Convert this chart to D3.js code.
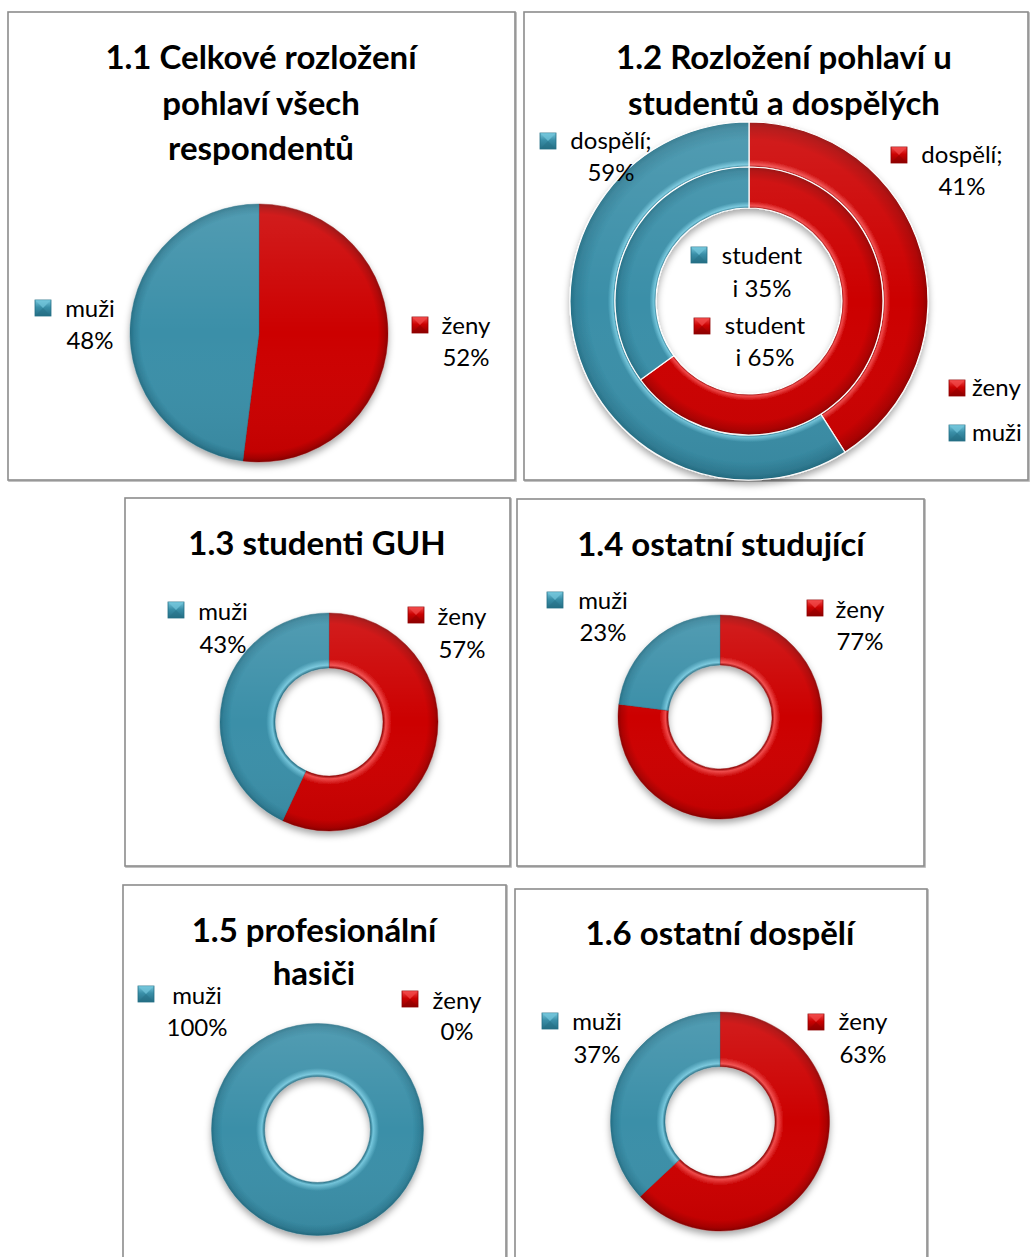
<!DOCTYPE html>
<html><head><meta charset="utf-8">
<script src="https://cdn.jsdelivr.net/npm/d3@7"></script>
<style>
body{margin:0;background:#fff}
svg text{font-family:Lato,"Open Sans",sans-serif;fill:#000}
</style>
</head><body>
<svg id="c" width="1031" height="1257"></svg>
<script>
// ---------- DATA ----------
const categories = ["ženy", "muži"];
const panelTitles = [
  ["1.1 Celkové rozložení", "pohlaví všech", "respondentů"],
  ["1.2 Rozložení pohlaví u", "studentů a dospělých"],
  ["1.3 studenti GUH"],
  ["1.4 ostatní studující"],
  ["1.5 profesionální", "hasiči"],
  ["1.6 ostatní dospělí"]
];
const values11 = [52, 48];          // celkově
const values12Outer = [41, 59];     // dospělí
const values12Inner = [65, 35];     // studenti
const values13 = [57, 43];
const values14 = [77, 23];
const values15 = [0, 100];
const values16 = [63, 37];
const seriesNames12 = ["dospělí", "studenti"];

// ---------- LAYOUT ----------
const layout = [
  {box:[8,12,507,468], cx:259, cy:333, rings:[[0,129]], titleX:261, titleY:[57,103,148],
   labels:[{c:"muži",mx:43,my:308,tx:90,y1:309,y2:341},{c:"ženy",mx:420,my:325,tx:466,y1:326,y2:358}]},
  {box:[524,12,504,468], cx:749, cy:301, rings:[[134,179],[93,134]], titleX:784, titleY:[57,103],
   labels:[
     {ring:0,c:"muži",mx:548,my:141,tx:611,y1:141,y2:173},
     {ring:0,c:"ženy",mx:899,my:155,tx:962,y1:155,y2:187},
     {ring:1,c:"muži",mx:699,my:255,tx:762,y1:256,y2:289},
     {ring:1,c:"ženy",mx:702,my:326,tx:765,y1:326,y2:358}],
   legend:{x:957,y:[388,433]}},
  {box:[125,498,385,368], cx:329, cy:722, rings:[[54,109]], titleX:317, titleY:[543],
   labels:[{c:"muži",mx:176,my:610,tx:223,y1:612,y2:645},{c:"ženy",mx:416,my:615,tx:462,y1:617,y2:650}]},
  {box:[517,499,407,367], cx:720, cy:717, rings:[[52,102]], titleX:721, titleY:[544],
   labels:[{c:"muži",mx:555,my:600,tx:603,y1:601,y2:633},{c:"ženy",mx:815,my:608,tx:860,y1:610,y2:642}]},
  {box:[123,885,383,400], cx:317.5, cy:1129.5, rings:[[53,106]], titleX:314, titleY:[930,973],
   labels:[{c:"muži",mx:146,my:994,tx:197,y1:996,y2:1028},{c:"ženy",mx:410,my:999,tx:457,y1:1001,y2:1032}]},
  {box:[515,889,412,400], cx:720, cy:1121.5, rings:[[55,109.5]], titleX:720, titleY:[933],
   labels:[{c:"muži",mx:550,my:1021,tx:597,y1:1022,y2:1055},{c:"ženy",mx:816,my:1022,tx:863,y1:1022,y2:1055}]}
];
const panelData = [[values11],[values12Outer, values12Inner],[values13],[values14],[values15],[values16]];

const color = d3.scaleOrdinal(categories, ["#CC0202", "#3A8FA8"]);
const light = d3.scaleOrdinal(categories, ["#F24A4A", "#74C6DC"]);
const dark = d3.scaleOrdinal(categories, ["#8E0000", "#256F85"]);

const svg = d3.select("#c");
const defs = svg.append("defs");
const sh = defs.append("filter").attr("id","shadow").attr("x","-20%").attr("y","-20%").attr("width","140%").attr("height","150%");
sh.append("feDropShadow").attr("dx",0).attr("dy",4).attr("stdDeviation",3.5).attr("flood-color","#000").attr("flood-opacity",0.35);
const bsh = defs.append("filter").attr("id","bshadow").attr("x","-5%").attr("y","-5%").attr("width","110%").attr("height","110%");
bsh.append("feDropShadow").attr("dx",1).attr("dy",1).attr("stdDeviation",0.6).attr("flood-color","#000").attr("flood-opacity",0.3);

// marker gradients
categories.forEach((c,i)=>{
  const g = defs.append("linearGradient").attr("id","mk"+i).attr("x1",0).attr("y1",0).attr("x2",0).attr("y2",1);
  g.append("stop").attr("offset","0%").attr("stop-color",light(c));
  g.append("stop").attr("offset","45%").attr("stop-color",color(c));
  g.append("stop").attr("offset","100%").attr("stop-color",dark(c));
});

const pie = d3.pie().sort(null).value(d=>d.v);
let gid = 0;

function marker(g, c, x, y){
  const i = categories.indexOf(c), s = 16;
  g.append("rect").attr("x",x-s/2).attr("y",y-s/2).attr("width",s).attr("height",s)
    .attr("fill","url(#mk"+i+")").attr("stroke",dark(c)).attr("stroke-width",0.8);
  g.append("path").attr("d",`M${x-s/2},${y-s/2}L${x+s/2},${y-s/2}L${x},${y}Z`).attr("fill",light(c)).attr("opacity",0.7);
  g.append("path").attr("d",`M${x-s/2},${y+s/2}L${x+s/2},${y+s/2}L${x},${y}Z`).attr("fill",dark(c)).attr("opacity",0.45);
}

layout.forEach((L, pi) => {
  const g = svg.append("g");
  const [bx,by,bw,bh] = L.box;
  g.append("rect").attr("x",bx).attr("y",by).attr("width",bw).attr("height",bh)
    .attr("fill","#fff").attr("stroke","#8c8c8c").attr("stroke-width",1.6).attr("filter","url(#bshadow)");

  // title
  panelTitles[pi].forEach((t,li)=>{
    g.append("text").attr("x",L.titleX).attr("y",L.titleY[li]).attr("dy","0.35em")
      .attr("text-anchor","middle").attr("font-weight","bold").attr("font-size",33).text(t);
  });

  // rings
  const dg = g.append("g").attr("transform",`translate(${L.cx},${L.cy})`).attr("filter","url(#shadow)");
  L.rings.forEach((r,ri)=>{
    const [ri0, ro] = r;
    const vals = panelData[pi][ri];
    const arcs = pie(categories.map((c,k)=>({c, v: vals[k]})));
    const arc = d3.arc().innerRadius(ri0).outerRadius(ro);
    categories.forEach((c,k)=>{
      const id = "rg"+(gid++);
      const f0 = ri0/ro;
      const gr = defs.append("radialGradient").attr("id",id).attr("gradientUnits","userSpaceOnUse")
        .attr("cx",0).attr("cy",0).attr("r",ro);
      if (f0 > 0) {
        gr.append("stop").attr("offset",f0).attr("stop-color",dark(c));
        gr.append("stop").attr("offset",f0+ (1-f0)*0.05).attr("stop-color",light(c));
        gr.append("stop").attr("offset",f0+ (1-f0)*0.16).attr("stop-color",color(c));
      } else {
        gr.append("stop").attr("offset",0).attr("stop-color",color(c));
      }
      gr.append("stop").attr("offset",0.86 + (f0>0?0.04:0.06)).attr("stop-color",color(c));
      gr.append("stop").attr("offset",0.97).attr("stop-color",d3.interpolateRgb(color(c),dark(c))(0.5));
      gr.append("stop").attr("offset",1).attr("stop-color",dark(c));
      const a = arcs[k];
      if (a.endAngle - a.startAngle <= 0) return;
      dg.append("path").attr("d",arc(a)).attr("fill","url(#"+id+")")
        .attr("stroke", L.rings.length>1 ? "#fff" : d3.color(dark(c)).copy({opacity:0.5}))
        .attr("stroke-width", L.rings.length>1 ? 1.2 : 0.8);
    });
  });
  // subtle top-lit overlay
  const oid = "ov"+pi;
  const og = defs.append("linearGradient").attr("id",oid).attr("x1",0).attr("y1",0).attr("x2",0).attr("y2",1);
  og.append("stop").attr("offset","0%").attr("stop-color","#fff").attr("stop-opacity",0.12);
  og.append("stop").attr("offset","50%").attr("stop-color","#fff").attr("stop-opacity",0);
  og.append("stop").attr("offset","100%").attr("stop-color","#000").attr("stop-opacity",0.06);
  const outerR = d3.max(L.rings, r=>r[1]), innerR = d3.min(L.rings, r=>r[0]);
  g.append("path").attr("transform",`translate(${L.cx},${L.cy})`)
    .attr("d", d3.arc().innerRadius(innerR).outerRadius(outerR).startAngle(0).endAngle(2*Math.PI)())
    .attr("fill","url(#"+oid+")").attr("pointer-events","none");

  // labels
  L.labels.forEach(lb=>{
    const ri = lb.ring || 0;
    const k = categories.indexOf(lb.c);
    const v = panelData[pi][ri][k];
    const pct = v + "%";
    let l1, l2;
    if (pi === 1) {
      const nm = seriesNames12[ri];
      if (ri === 0) { l1 = nm + ";"; l2 = pct; }
      else { l1 = nm.slice(0,-1); l2 = nm.slice(-1) + " " + pct; }
    } else { l1 = lb.c; l2 = pct; }
    marker(g, lb.c, lb.mx, lb.my);
    g.append("text").attr("x",lb.tx).attr("y",lb.y1).attr("dy","0.35em").attr("text-anchor","middle").attr("font-size",24).text(l1);
    g.append("text").attr("x",lb.tx).attr("y",lb.y2).attr("dy","0.35em").attr("text-anchor","middle").attr("font-size",24).text(l2);
  });

  if (L.legend) {
    categories.forEach((c,k)=>{
      marker(g, c, L.legend.x, L.legend.y[k]);
      g.append("text").attr("x",L.legend.x+15).attr("y",L.legend.y[k]).attr("dy","0.35em").attr("font-size",24).text(c);
    });
  }
});
</script>
</body></html>
